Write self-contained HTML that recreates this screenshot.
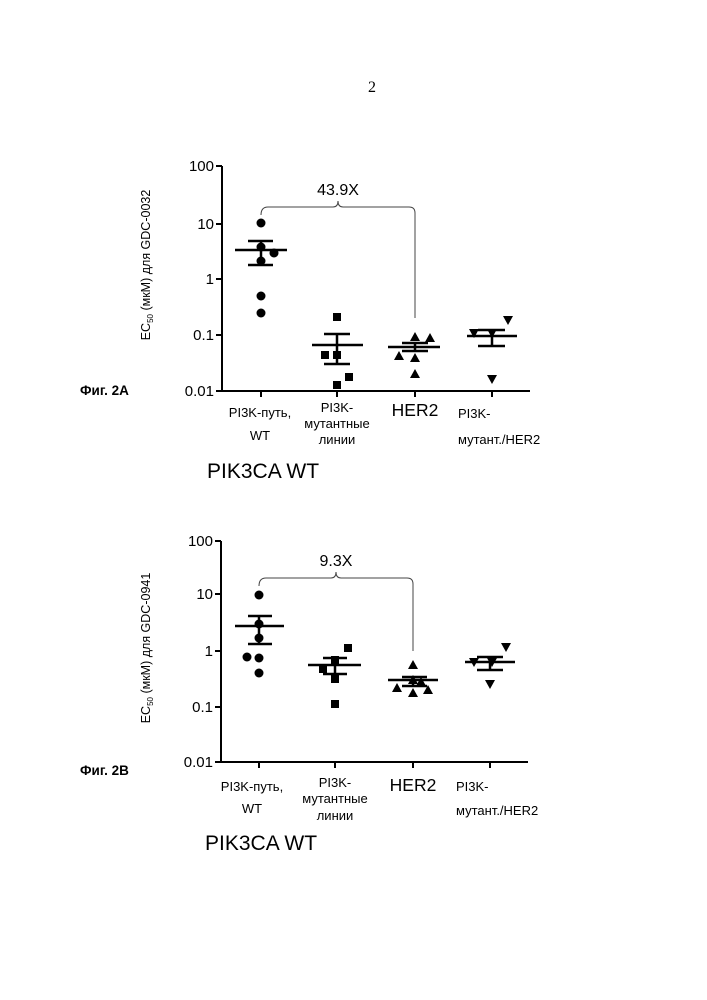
<!DOCTYPE html>
<html><head><meta charset="utf-8"><style>
body{margin:0;background:#fff}
svg{display:block;font-family:"Liberation Sans",Arial,sans-serif}
</style></head><body>
<svg width="707" height="1000" viewBox="0 0 707 1000" xmlns="http://www.w3.org/2000/svg">
<rect width="707" height="1000" fill="#fff"/>
<text x="372" y="92" font-family="Liberation Serif,serif" font-size="16" text-anchor="middle">2</text>

<!-- Chart A -->
<g stroke="#000" stroke-width="2" fill="none">
<line x1="222" y1="166" x2="222" y2="391"/>
<line x1="221" y1="391" x2="530" y2="391"/>
<line x1="216" y1="166" x2="222" y2="166"/><line x1="216" y1="224" x2="222" y2="224"/>
<line x1="216" y1="279" x2="222" y2="279"/><line x1="216" y1="335" x2="222" y2="335"/>
<line x1="216" y1="391" x2="222" y2="391"/>
<line x1="261" y1="391" x2="261" y2="397"/><line x1="337" y1="391" x2="337" y2="397"/>
<line x1="415" y1="391" x2="415" y2="397"/><line x1="492" y1="391" x2="492" y2="397"/>
</g>
<g font-size="15" text-anchor="end">
<text x="214" y="171">100</text><text x="214" y="229">10</text><text x="214" y="284">1</text>
<text x="214" y="340">0.1</text><text x="214" y="396">0.01</text>
</g>
<text transform="translate(150,265) rotate(-90)" font-size="12.5" text-anchor="middle">EC<tspan font-size="8" dy="3">50</tspan><tspan dy="-3"> (мкМ) для GDC-0032</tspan></text>
<path d="M261,215 Q261,207 268,207 L333,207 Q338,207 338,201 Q338,207 343,207 L409,207 Q415,207 415,213 L415,318" stroke="#444" stroke-width="1" fill="none"/>
<text x="338" y="195" font-size="16" text-anchor="middle">43.9X</text>
<g fill="#000">
<circle cx="261" cy="223" r="4.5"/><circle cx="261" cy="247" r="4.5"/><circle cx="274" cy="253" r="4.5"/>
<circle cx="261" cy="261" r="4.5"/><circle cx="261" cy="296" r="4.5"/><circle cx="261" cy="313" r="4.5"/>
<rect x="333" y="313" width="8" height="8"/><rect x="321" y="351" width="8" height="8"/><rect x="333" y="351" width="8" height="8"/>
<rect x="345" y="373" width="8" height="8"/><rect x="333" y="381" width="8" height="8"/>
<path d="M415,332 l5,9 h-10z M430,333 l5,9 h-10z M399,351 l5,9 h-10z M415,353 l5,9 h-10z M415,369 l5,9 h-10z"/>
<path d="M474,338 l5,-9 h-10z M492,338 l5,-9 h-10z M508,325 l5,-9 h-10z M492,384 l5,-9 h-10z"/>
</g>
<g stroke="#000" stroke-width="2.5">
<line x1="235" y1="250" x2="287" y2="250"/><line x1="261" y1="241" x2="261" y2="265"/>
<line x1="248" y1="241" x2="273" y2="241"/><line x1="248" y1="265" x2="273" y2="265"/>
<line x1="312" y1="345" x2="363" y2="345"/><line x1="337" y1="334" x2="337" y2="364"/>
<line x1="324" y1="334" x2="350" y2="334"/><line x1="324" y1="364" x2="350" y2="364"/>
<line x1="388" y1="347" x2="440" y2="347"/><line x1="415" y1="343" x2="415" y2="351"/>
<line x1="402" y1="343" x2="428" y2="343"/><line x1="402" y1="351" x2="428" y2="351"/>
<line x1="467" y1="336" x2="517" y2="336"/><line x1="492" y1="330" x2="492" y2="346"/>
<line x1="478" y1="330" x2="505" y2="330"/><line x1="478" y1="346" x2="505" y2="346"/>
</g>
<text x="80" y="395" font-size="13.5" font-weight="bold">Фиг. 2А</text>
<g font-size="13" text-anchor="middle">
<text x="260" y="417">PI3K-путь,</text><text x="260" y="440">WT</text>
<text x="337" y="412">PI3K-</text><text x="337" y="428">мутантные</text><text x="337" y="444">линии</text>
<text x="415" y="416" font-size="17.5">HER2</text>
</g>
<g font-size="13"><text x="458" y="418">PI3K-</text><text x="458" y="444">мутант./HER2</text></g>
<text x="207" y="478" font-size="21">PIK3CA WT</text>

<!-- Chart B -->
<g stroke="#000" stroke-width="2" fill="none">
<line x1="221" y1="541" x2="221" y2="762"/>
<line x1="220" y1="762" x2="528" y2="762"/>
<line x1="215" y1="541" x2="221" y2="541"/><line x1="215" y1="594" x2="221" y2="594"/>
<line x1="215" y1="651" x2="221" y2="651"/><line x1="215" y1="707" x2="221" y2="707"/>
<line x1="215" y1="762" x2="221" y2="762"/>
<line x1="259" y1="762" x2="259" y2="768"/><line x1="335" y1="762" x2="335" y2="768"/>
<line x1="413" y1="762" x2="413" y2="768"/><line x1="490" y1="762" x2="490" y2="768"/>
</g>
<g font-size="15" text-anchor="end">
<text x="213" y="546">100</text><text x="213" y="599">10</text><text x="213" y="656">1</text>
<text x="213" y="712">0.1</text><text x="213" y="767">0.01</text>
</g>
<text transform="translate(150,648) rotate(-90)" font-size="12.5" text-anchor="middle">EC<tspan font-size="8" dy="3">50</tspan><tspan dy="-3"> (мкМ) для GDC-0941</tspan></text>
<path d="M259,586 Q259,578 266,578 L331,578 Q336,578 336,572 Q336,578 341,578 L407,578 Q413,578 413,584 L413,651" stroke="#444" stroke-width="1" fill="none"/>
<text x="336" y="566" font-size="16" text-anchor="middle">9.3X</text>
<g fill="#000">
<circle cx="259" cy="595" r="4.5"/><circle cx="259" cy="624" r="4.5"/><circle cx="259" cy="638" r="4.5"/>
<circle cx="247" cy="657" r="4.5"/><circle cx="259" cy="658" r="4.5"/><circle cx="259" cy="673" r="4.5"/>
<rect x="344" y="644" width="8" height="8"/><rect x="331" y="656" width="8" height="8"/><rect x="319" y="665" width="8" height="8"/>
<rect x="331" y="675" width="8" height="8"/><rect x="331" y="700" width="8" height="8"/>
<path d="M413,660 l5,9 h-10z M397,683 l5,9 h-10z M413,675 l5,9 h-10z M428,685 l5,9 h-10z M413,688 l5,9 h-10z M421,677 l5,9 h-10z"/>
<path d="M474,667 l5,-9 h-10z M492,667 l5,-9 h-10z M506,652 l5,-9 h-10z M490,689 l5,-9 h-10z"/>
</g>
<g stroke="#000" stroke-width="2.5">
<line x1="235" y1="626" x2="284" y2="626"/><line x1="259" y1="616" x2="259" y2="644"/>
<line x1="248" y1="616" x2="272" y2="616"/><line x1="248" y1="644" x2="272" y2="644"/>
<line x1="308" y1="665" x2="361" y2="665"/><line x1="335" y1="658" x2="335" y2="674"/>
<line x1="323" y1="658" x2="347" y2="658"/><line x1="323" y1="674" x2="347" y2="674"/>
<line x1="388" y1="680" x2="438" y2="680"/><line x1="413" y1="677" x2="413" y2="686"/>
<line x1="402" y1="677" x2="427" y2="677"/><line x1="402" y1="686" x2="427" y2="686"/>
<line x1="465" y1="662" x2="515" y2="662"/><line x1="490" y1="657" x2="490" y2="670"/>
<line x1="477" y1="657" x2="503" y2="657"/><line x1="477" y1="670" x2="503" y2="670"/>
</g>
<text x="80" y="775" font-size="13.5" font-weight="bold">Фиг. 2В</text>
<g font-size="13" text-anchor="middle">
<text x="252" y="791">PI3K-путь,</text><text x="252" y="813">WT</text>
<text x="335" y="787">PI3K-</text><text x="335" y="803">мутантные</text><text x="335" y="820">линии</text>
<text x="413" y="791" font-size="17.5">HER2</text>
</g>
<g font-size="13"><text x="456" y="791">PI3K-</text><text x="456" y="815">мутант./HER2</text></g>
<text x="205" y="850" font-size="21">PIK3CA WT</text>
</svg>
</body></html>
